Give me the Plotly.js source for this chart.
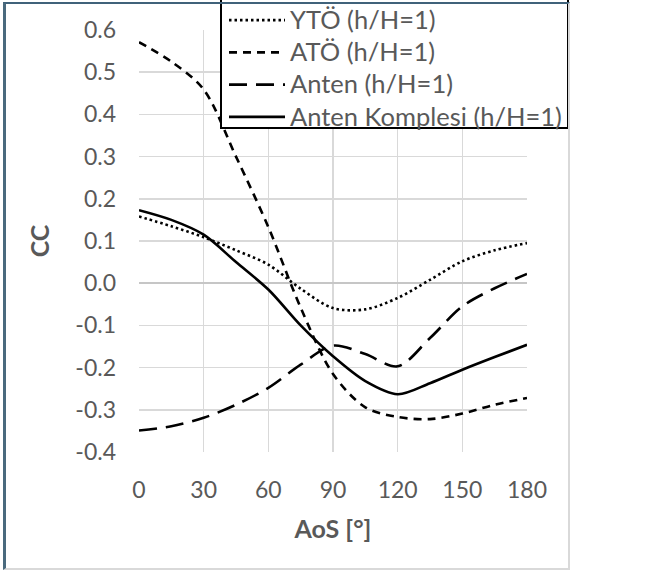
<!DOCTYPE html>
<html>
<head>
<meta charset="utf-8">
<script src="https://cdn.plot.ly/plotly-3.0.1.min.js"></script>
<style>
  html, body { margin: 0; padding: 0; background: #ffffff; }
  #chart { position: absolute; left: 0; top: 0; width: 653px; height: 571px; }
  #frame {
    position: absolute; left: 3px; top: 2px; width: 567px; height: 568px;
    box-sizing: border-box;
    border-left: 3px solid #4a6a7e; border-top: 2px solid #40627a;
    border-right: 2px solid #d9d9d9; border-bottom: 2px solid #d9d9d9;
    pointer-events: none;
  }
</style>
</head>
<body>
<div id="chart"></div>
<div id="frame"></div>
<script>
// Angle of sideslip (AoS, degrees)
const aos = [0, 15, 30, 45, 60, 75, 90, 105, 120, 135, 150, 165, 180];

// Series values (CC)
const ytoe   = [0.158, 0.135, 0.109, 0.078, 0.044, -0.013, -0.059, -0.062, -0.035, 0.008, 0.052, 0.078, 0.095];
const atoe   = [0.571, 0.525, 0.459, 0.300, 0.133, -0.058, -0.215, -0.294, -0.317, -0.322, -0.309, -0.288, -0.272];
const anten  = [-0.349, -0.339, -0.319, -0.288, -0.248, -0.193, -0.148, -0.168, -0.197, -0.130, -0.055, -0.012, 0.022];
const komp   = [0.173, 0.150, 0.115, 0.050, -0.015, -0.100, -0.173, -0.232, -0.263, -0.237, -0.205, -0.175, -0.146];

const seriesNames = ['YTÖ (h/H=1)', 'ATÖ (h/H=1)', 'Anten (h/H=1)', 'Anten Komplesi (h/H=1)'];

const xTicks = [0, 30, 60, 90, 120, 150, 180];
const yTicks = [-0.4, -0.3, -0.2, -0.1, 0.0, 0.1, 0.2, 0.3, 0.4, 0.5, 0.6];
const yTickText = ['-0.4', '-0.3', '-0.2', '-0.1', '0.0', '0.1', '0.2', '0.3', '0.4', '0.5', '0.6'];

const FONT = 'Lato, "Open Sans", sans-serif';
const GREY = '#595959';

function tr(y, name, dash) {
  return {
    x: aos, y: y, name: '<span style="font-size:25.5px">' + name + '</span>',
    type: 'scatter', mode: 'lines',
    line: { color: '#000000', width: 2.6, shape: 'spline', smoothing: 0.9, dash: dash }
  };
}

const data = [
  tr(ytoe, seriesNames[0], '2.5px,3px'),
  tr(atoe, seriesNames[1], '8px,6px'),
  tr(anten, seriesNames[2], '18px,9px'),
  tr(komp, seriesNames[3], 'solid')
];

const L = 139, R = 126, T = 30, B = 119;
const PW = 653 - L - R, PH = 571 - T - B;
function px2x(px) { return (px - L) / PW; }
function px2y(py) { return (571 - B - py) / PH; }

const layout = {
  width: 653, height: 571,
  margin: { l: L, r: R, t: T, b: B, pad: 0, autoexpand: false },
  paper_bgcolor: 'rgba(0,0,0,0)',
  plot_bgcolor: '#ffffff',
  font: { family: FONT, size: 23, color: GREY },
  showlegend: true,
  legend: {
    x: px2x(224), y: px2y(-1), xanchor: 'left', yanchor: 'top',
    bgcolor: 'rgba(0,0,0,0)', borderwidth: 0,
    font: { family: FONT, size: 22.5, color: GREY },
    itemwidth: 56, tracegroupgap: 0
  },
  xaxis: {
    range: [0, 180], tickvals: xTicks, ticktext: xTicks.map(String),
    showgrid: true, gridcolor: '#d9d9d9', gridwidth: 1.5,
    zeroline: false, showline: false, ticks: '',
    ticklabelstandoff: 22,
    tickfont: { family: FONT, size: 23, color: GREY },
    title: { text: 'AoS [°]', font: { family: FONT, size: 25, color: GREY, weight: 'bold' }, standoff: 18 },
    fixedrange: true
  },
  yaxis: {
    range: [-0.4, 0.6], tickvals: yTicks, ticktext: yTickText,
    showgrid: true, gridcolor: '#d9d9d9', gridwidth: 1.5,
    zeroline: true, zerolinecolor: '#c6c6c6', zerolinewidth: 1.8,
    showline: false, ticks: '',
    ticklabelstandoff: 22,
    tickfont: { family: FONT, size: 23, color: GREY },
    title: { text: 'CC', font: { family: FONT, size: 25, color: GREY, weight: 'bold' }, standoff: 18 },
    fixedrange: true
  },
  shapes: [{
    type: 'rect', xref: 'paper', yref: 'paper', layer: 'above',
    x0: px2x(221), x1: px2x(568), y0: px2y(128), y1: px2y(-6),
    line: { color: '#000000', width: 2 }, fillcolor: '#ffffff'
  }]
};

Plotly.newPlot('chart', data, layout, { staticPlot: true, displayModeBar: false });
</script>
</body>
</html>
